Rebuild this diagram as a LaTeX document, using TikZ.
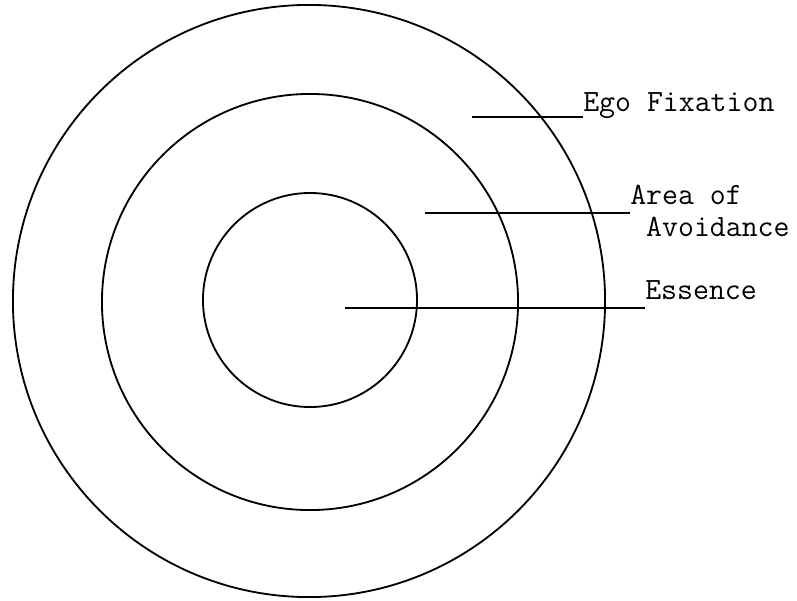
\documentclass[tikz,border=0pt]{standalone}
\usepackage{tikz}
\usetikzlibrary{positioning}

\begin{document}
\begin{tikzpicture}[
    x=0.025cm, y=-0.025cm,
    % one unit = one pixel of the 797x600 sheet
    ring/.style={draw=black, circle, line width=1.3pt, inner sep=0pt},
    lbl/.style={font=\fontsize{22}{23}\selectfont\ttfamily, inner sep=0pt,
                align=left, text=black},
    leader/.style={line width=1.8pt, black}
  ]
  \useasboundingbox (0,0) rectangle (797,600);

  % ── the three rings, common centre ───────────────────────────────────
  \node[ring, minimum size=14.8cm]  (outer)  at (309,301) {};
  \node[ring, minimum size=10.4cm]  (middle) at (310,302) {};
  \node[ring, minimum size=5.35cm]  (inner)  at (310,300) {};

  % ── labels on the right ─────────────────────────────────────────────
  \node[lbl, anchor=base west] (ego)     at (583,111) {Ego Fixation};
  \node[lbl, anchor=north west] (avoid)  at (630,185)
        {Area of\\\phantom{A}Avoidance};
  \node[lbl, anchor=base west] (essence) at (645,299) {Essence};

  % ── leader lines, from inside each band out to its label ────────────
  \coordinate (egoin)  at (472,117);
  \coordinate (avin)   at (425,213);
  \coordinate (essin)  at (345,308);

  \draw[leader] (egoin) -- (egoin -| ego.west);
  \draw[leader] (avin)  -- (avin -| avoid.west);
  \draw[leader] (essin) -- (essin -| essence.west);

\end{tikzpicture}
\end{document}
